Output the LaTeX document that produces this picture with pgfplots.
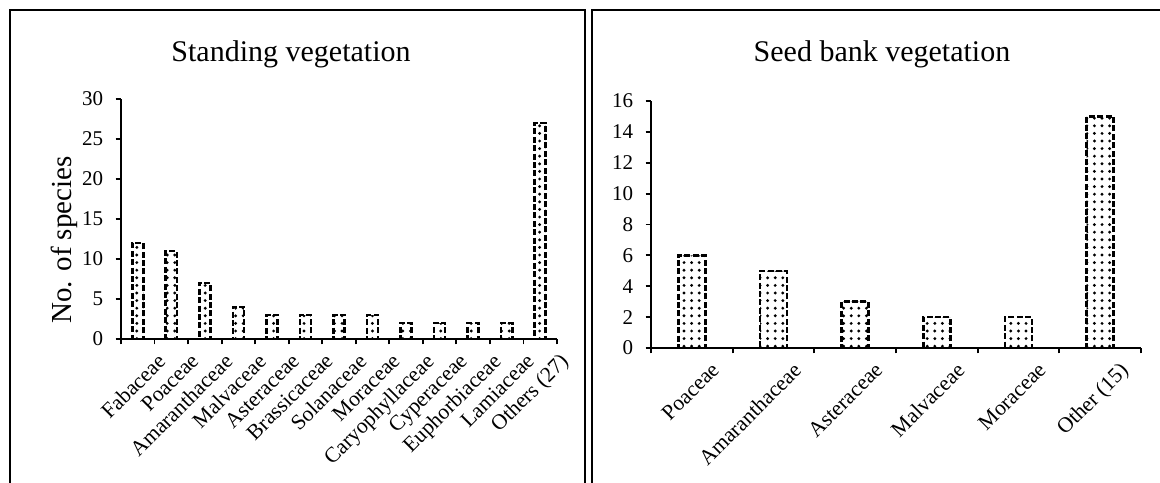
\documentclass[border=0pt]{standalone}
\usepackage{fontspec}
\setmainfont{Liberation Serif}
\usepackage{pgfplots}
\pgfplotsset{compat=1.18}
\usetikzlibrary{patterns.meta}

\pgfplotsset{
  famchart/.style={
    scale only axis, anchor=south west,
    axis lines*=left,
    axis line style={-, line width=0.9pt},
    ybar, bar width=0.33,
    ymin=0, xmin=-0.5,
    tick align=outside, major tick length=2.7bp,
    every tick/.style={black, line width=0.9pt},
    xticklabels={},
    /pgf/number format/assume math mode=true,
    yticklabel style={font=\fontsize{10.5bp}{12bp}\selectfont, xshift=-2.7bp},
    extra x tick style={major tick length=0pt,
      xticklabel style={font=\fontsize{10.8bp}{12bp}\selectfont,
        rotate=45, anchor=north east, inner sep=0pt,
        xshift=2bp, yshift=-11bp}},
  },
  famabar/.style={draw=black, line width=1.3bp, dash pattern=on 3bp off 1.2bp,
    pattern={Dots[distance=3.8bp, radius=0.8bp]}, pattern color=black},
}

\begin{document}
\begin{tikzpicture}
\path[use as bounding box] (0,0) rectangle (580bp,241.5bp);

% panel frames
\draw[line width=1.1bp] (5bp,0) |- (292.5bp,236.5bp) -- (292.5bp,0);
\draw[line width=1.1bp] (296bp,0) |- (580bp,236.5bp);

\node[anchor=base, font=\fontsize{15bp}{18bp}\selectfont] at (145.5bp,210.5bp) {Standing vegetation};
\node[anchor=base, font=\fontsize{15bp}{18bp}\selectfont] at (441bp,210.5bp) {Seed bank vegetation};
\node[anchor=base, rotate=90, font=\fontsize{14.5bp}{17bp}\selectfont] at (35.5bp,121.5bp) {No. of species};

\begin{axis}[famchart,
  at={(60.5bp,72bp)}, width=218bp, height=120bp,
  xmax=12.5, ymax=30, ytick={0,5,...,30},
  xtick={-0.5,0.5,...,12.5},
  extra x ticks={0,...,12},
  extra x tick labels={Fabaceae,Poaceae,Amaranthaceae,Malvaceae,Asteraceae,Brassicaceae,Solanaceae,Moraceae,Caryophyllaceae,Cyperaceae,Euphorbiaceae,Lamiaceae,Others (27)},
]
\addplot[famabar] coordinates {
  (0,12) (1,11) (2,7) (3,4) (4,3) (5,3) (6,3) (7,3) (8,2) (9,2) (10,2) (11,2) (12,27)
};
\end{axis}

\begin{axis}[famchart,
  at={(325.5bp,67.5bp)}, width=245bp, height=123.5bp,
  xmax=5.5, ymax=16, ytick={0,2,...,16},
  xtick={-0.5,0.5,...,5.5},
  extra x ticks={0,...,5},
  extra x tick labels={Poaceae,Amaranthaceae,Asteraceae,Malvaceae,Moraceae,Other (15)},
]
\addplot[famabar] coordinates {
  (0,6) (1,5) (2,3) (3,2) (4,2) (5,15)
};
\end{axis}
\end{tikzpicture}
\end{document}
